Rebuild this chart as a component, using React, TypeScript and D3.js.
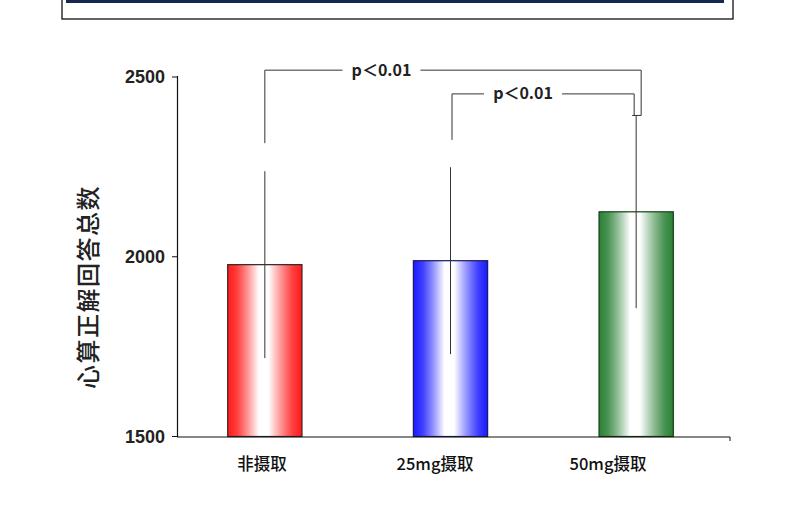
import React from 'react';
import * as d3 from 'd3';

// data
const categories = ['非摄取', '25mg摄取', '50mg摄取'];
const means = [1978, 1989, 2125];
const sds = [260, 260, 268];
const yTicks = [1500, 2000, 2500];
const barColors = ['#ff1a1a', '#1a1aff', '#2a8035'];
const barStrokes = ['#3a2020', '#1a1a60', '#163f16'];
const comparisons = [
    { from: 0, to: 2, level: 2519, leftEnd: 2316, label: 'p＜0.01', labelFrac: 0.31, dxL: 0, dxR: 5 },
    { from: 1, to: 2, level: 2453, leftEnd: 2325, label: 'p＜0.01', labelFrac: 0.39, dxL: 1.5, dxR: -2 },
];

const W = 790;
const H = 520;

function App() {
    const y = d3.scaleLinear().domain([1500, 2500]).range([436.5, 77]);
    const x = d3.scaleBand<string>().domain(categories).range([172, 729]).paddingInner(0.6).paddingOuter(0.3);
    const labelX = d3.scalePoint<string>().domain(categories).range([262, 608]);
    const bw = x.bandwidth();
    const cx = (i: number) => (x(categories[i]) as number) + bw / 2;

    return (
        <svg width={W} height={H} style={{ position: 'absolute', left: 0, top: 0, background: '#fff' }}>
            <defs>
                {barColors.map((c, i) => (
                    <linearGradient key={i} id={`g${i}`} x1="0" x2="1" y1="0" y2="0">
                        <stop offset="0" stopColor={c} />
                        <stop offset="0.12" stopColor={c} stopOpacity={0.85} />
                        <stop offset="0.42" stopColor="#fff" />
                        <stop offset="0.55" stopColor="#fff" />
                        <stop offset="0.88" stopColor={c} stopOpacity={0.85} />
                        <stop offset="1" stopColor={c} />
                    </linearGradient>
                ))}
            </defs>

            {/* header box */}
            <rect x={62} y={-2} width={671} height={21} fill="#fff" stroke="#111" strokeWidth={1.3} />
            <rect x={66} y={0} width={658} height={3} fill="#17284f" />

            {/* bars */}
            {means.map((m, i) => (
                <rect key={i} x={x(categories[i])} y={y(m)} width={bw} height={y(1500) - y(m)}
                    fill={`url(#g${i})`} stroke={barStrokes[i]} strokeWidth={1.2} />
            ))}

            {/* error bars */}
            {means.map((m, i) => (
                <g key={i} stroke="#333" strokeWidth={1}>
                    <line x1={cx(i)} x2={cx(i)} y1={y(m + sds[i])} y2={y(m - sds[i])} />
                    {i === 2 && <line x1={cx(i) - 4} x2={cx(i) + 5} y1={y(m + sds[i])} y2={y(m + sds[i])} />}
                </g>
            ))}

            {/* axes */}
            <line x1={177.5} x2={177.5} y1={76} y2={437} stroke="#111" strokeWidth={1.2} />
            <line x1={177} x2={730} y1={437} y2={437} stroke="#111" strokeWidth={1.2} />
            <line x1={730} x2={730} y1={437} y2={441} stroke="#111" strokeWidth={1} />
            {yTicks.map(t => (
                <g key={t}>
                    <line x1={172} x2={177} y1={y(t)} y2={y(t)} stroke="#111" strokeWidth={1} />
                    <text x={165} y={y(t)} dy="0.36em" textAnchor="end" fontFamily="Liberation Sans, Arial"
                        fontWeight="bold" fontSize={18} fill="#222">{t}</text>
                </g>
            ))}

            {/* x labels */}
            {categories.map(c => (
                <text key={c} x={labelX(c)} y={470} textAnchor="middle" fontFamily="Noto Sans CJK SC"
                    fontWeight={500} fontSize={16.5} fill="#111">{c}</text>
            ))}

            {/* y title */}
            <text transform={`translate(97, 287) rotate(-90)`} textAnchor="middle" fontFamily="Noto Sans CJK SC"
                fontWeight={500} fontSize={24} letterSpacing={1.5} fill="#222">心算正解回答总数</text>

            {/* significance brackets */}
            {comparisons.map((c, k) => {
                const xl = cx(c.from) + c.dxL;
                const xr = cx(c.to) + c.dxR;
                const yl = y(c.level);
                const tx = xl + (xr - xl) * c.labelFrac;
                return (
                    <g key={k}>
                        <path d={`M${xl},${y(c.leftEnd)}V${yl}H${xr}V${y(means[c.to] + sds[c.to])}`}
                            fill="none" stroke="#333" strokeWidth={1} />
                        <rect x={tx - 39} y={yl - 8} width={78} height={16} fill="#fff" />
                        <text x={tx} y={yl} dy="0.35em" textAnchor="middle" fontFamily="Noto Sans CJK SC"
                            fontWeight="bold" fontSize={16} fill="#222">{c.label}</text>
                    </g>
                );
            })}
        </svg>
    );
}

export default App;
